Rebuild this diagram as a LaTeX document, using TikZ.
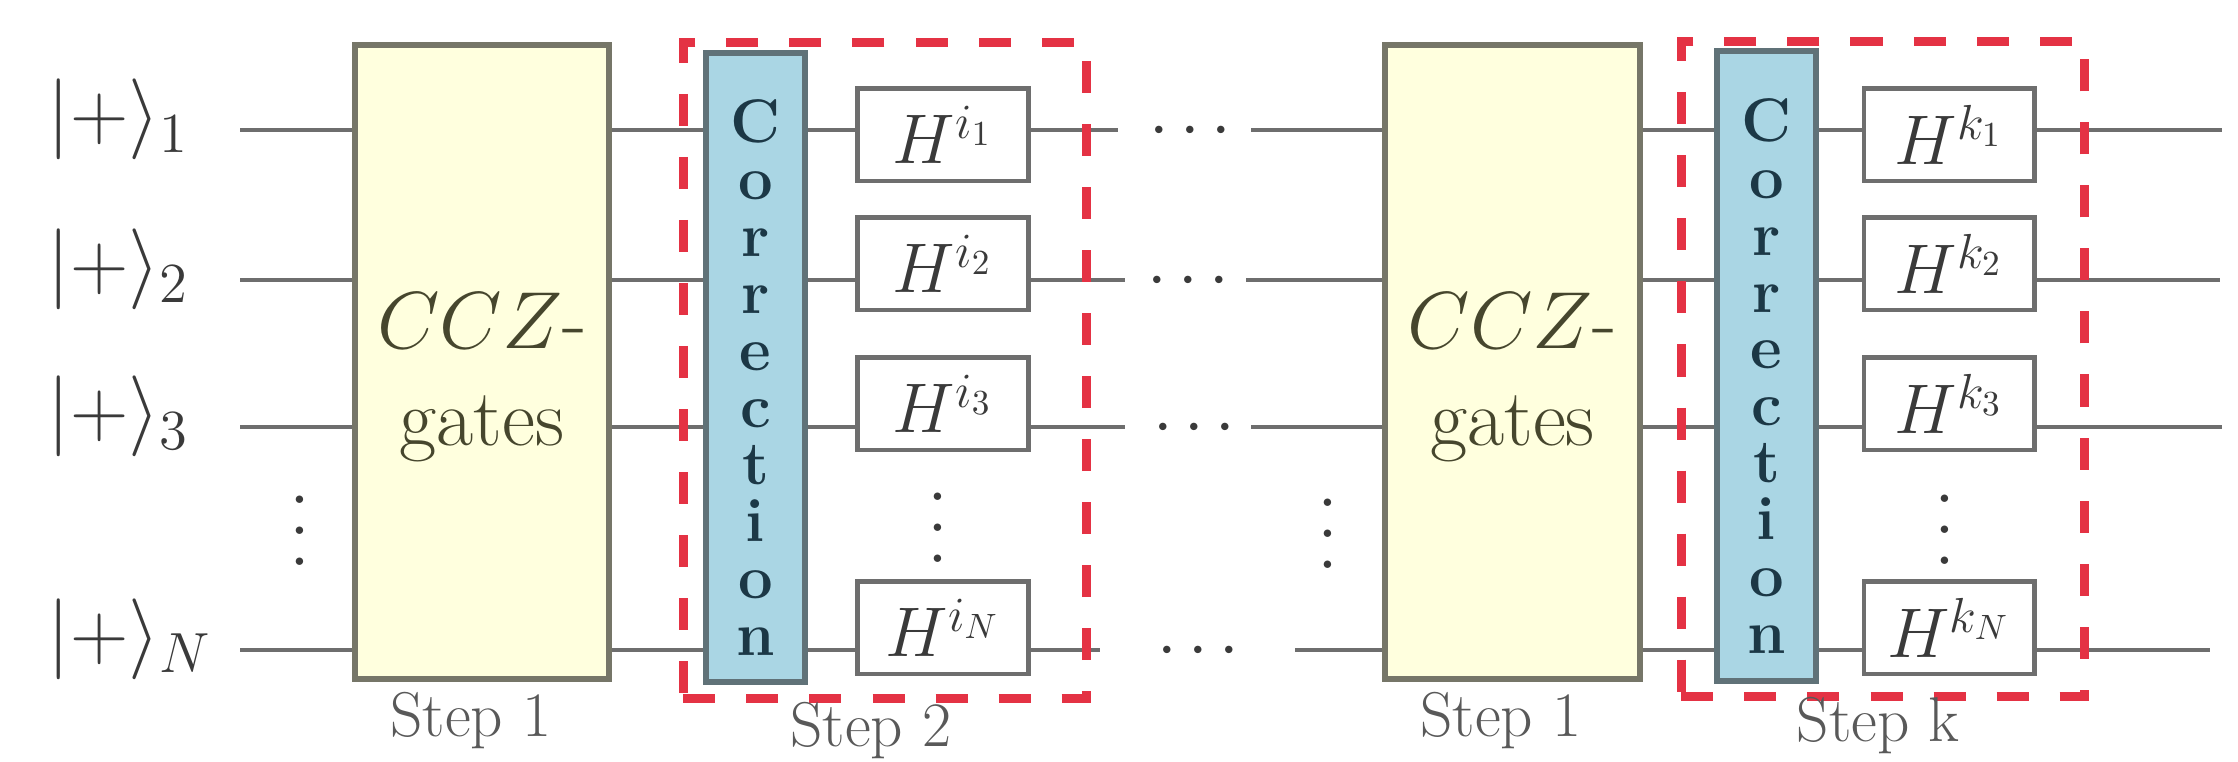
\RequirePackage{fix-cm}
\documentclass[tikz,border=0pt]{standalone}
\usepackage{amsmath}
\usepackage{tikz}
\definecolor{wiregray}{RGB}{110,110,110}
\definecolor{boxgray}{RGB}{118,118,104}
\definecolor{cczyellow}{RGB}{255,255,222}
\definecolor{ccztext}{RGB}{70,70,45}
\definecolor{corrblue}{RGB}{170,214,228}
\definecolor{corredge}{RGB}{96,114,120}
\definecolor{corrtext}{RGB}{28,56,70}
\definecolor{stepred}{RGB}{228,50,68}
\definecolor{textgray}{RGB}{58,58,58}
\newcommand{\corrword}{C\\o\\r\\r\\e\\c\\t\\i\\o\\n}

\begin{document}
\begin{tikzpicture}[x=0.01cm,y=-0.01cm,
  wire/.style={draw=wiregray,line width=1.4pt},
  cczbox/.style={draw=boxgray,line width=1.7pt,fill=cczyellow,minimum width=2.54cm,minimum height=6.34cm},
  cczlabel/.style={align=center,inner sep=0pt,text=ccztext,font=\fontsize{23}{27.6}\selectfont},
  corrbox/.style={draw=corredge,line width=1.7pt,fill=corrblue,minimum width=0.98cm,minimum height=6.29cm},
  corrlabel/.style={align=center,inner sep=0pt,text=corrtext,font=\fontsize{17.5}{16.2}\selectfont\bfseries},
  hbox/.style={draw=wiregray,line width=1.4pt,fill=white,minimum width=1.70cm,minimum height=0.92cm,inner sep=0pt,text=textgray,font=\fontsize{20}{24}\selectfont},
  stepframe/.style={draw=stepred,line width=2.5pt,dash pattern=on 0.32cm off 0.31cm,minimum width=4.03cm,minimum height=6.55cm},
  steplabel/.style={anchor=base,inner sep=0pt,text=black!65,font=\fontsize{18}{21}\selectfont},
  ket/.style={anchor=base west,inner sep=0pt,text=textgray,font=\fontsize{23}{27}\selectfont},
  dots/.style={inner sep=0pt,text=textgray,font=\fontsize{20}{24}\selectfont}]
  \useasboundingbox (0,0) rectangle (2238,762);

  % the two CCZ layers and their corrections
  \node[cczbox] (ccz1) at (482,362) {};
  \node[cczlabel] (cczt1) at ([yshift=-0.16cm]ccz1.center) {$CCZ$-\\gates};
  \node[corrbox] (corr1) at (755.5,367.5) {};
  \node[corrlabel] (corrt1) at ([yshift=-0.1cm]corr1.center) {\corrword};
  \node[cczbox] (ccz2) at (1512.5,362) {};
  \node[cczlabel] (cczt2) at ([yshift=-0.16cm]ccz2.center) {$CCZ$-\\gates};
  \node[corrbox] (corr2) at (1766.5,366) {};
  \node[corrlabel] (corrt2) at ([yshift=-0.1cm]corr2.center) {\corrword};

  \foreach \r/\y in {1/135,2/264,3/404,N/628} {
    \node[hbox] (ha\r) at (943,\y) {$H^{i_\r}$};
    \node[hbox] (hb\r) at (1949,\y) {$H^{k_\r}$};
  }

  % qubit lines
  \foreach \r/\wy/\ea/\dx/\sb/\eb in {1/130/1118/1196/1251/2222,2/280/1125/1194/1246/2220,3/427/1125/1200/1251/2222,N/650/1100/1204/1295/2210} {
    \node[ket] (k\r) at (47,\wy+10) {$|+\rangle_{\r}$};
    \coordinate (wa\r) at (240,\wy);
    \coordinate (ea\r) at (\ea,\wy);
    \coordinate (wb\r) at (\sb,\wy);
    \coordinate (eb\r) at (\eb,\wy);
    \draw[wire] (wa\r) -- (wa\r -| ccz1.west);
    \draw[wire] (wa\r -| ccz1.east) -- (wa\r -| corr1.west);
    \draw[wire] (wa\r -| corr1.east) -- (wa\r -| ha\r.west);
    \draw[wire] (wa\r -| ha\r.east) -- (ea\r);
    \node[dots,anchor=base] (dt\r) at (\dx,\wy+18) {$\cdots$};
    \draw[wire] (wb\r) -- (wb\r -| ccz2.west);
    \draw[wire] (wb\r -| ccz2.east) -- (wb\r -| corr2.west);
    \draw[wire] (wb\r -| corr2.east) -- (wb\r -| hb\r.west);
    \draw[wire] (wb\r -| hb\r.east) -- (eb\r);
  }
  \foreach \x/\y [count=\n] in {302/525,940/522,1330/528,1947/524}
    \node[dots,rotate=90] (vd\n) at (\x,\y) {$\cdots$};

  % dashed frames round the correction steps
  \node[stepframe] (frame2) at (885,370.5) {};
  \node[stepframe] (framek) at (1883,369) {};

  \node[steplabel] (lab1) at (471,737) {Step 1};
  \node[steplabel] (lab2) at (871,747) {Step 2};
  \node[steplabel] (lab3) at (1501,737) {Step 1};
  \node[steplabel] (labk) at (1878,742) {Step k};
\end{tikzpicture}
\end{document}
